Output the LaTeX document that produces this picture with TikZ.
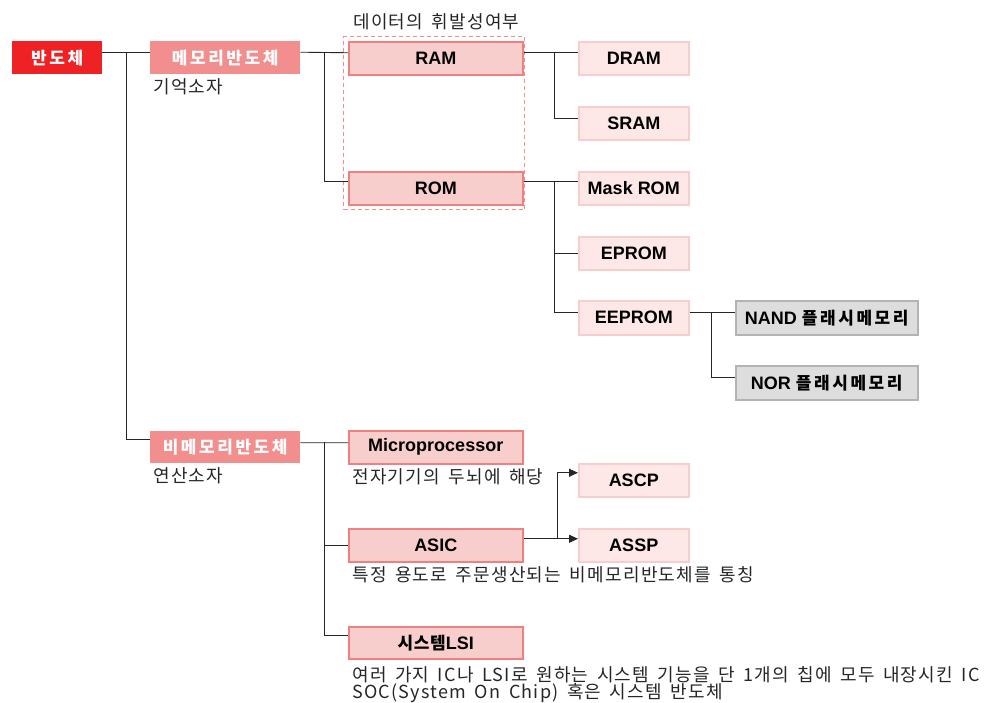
\documentclass[tikz,border=0pt]{standalone}
\usepackage{fontspec}
\usetikzlibrary{arrows.meta,calc}
\newfontfamily\krr{Noto Sans CJK KR}[LetterSpace=7,WordSpace=1.6]
\newfontfamily\krb{Noto Sans CJK KR Bold}[LetterSpace=15]
\newfontfamily\krbn{Noto Sans CJK KR Bold}[LetterSpace=4]
\newfontfamily\lat{Liberation Sans}
\newcommand{\hanb}[1]{{\krb\fontsize{17}{20}\selectfont #1}}
\newcommand{\hanbn}[1]{{\krbn\fontsize{17}{20}\selectfont #1}}
\definecolor{cred}{HTML}{EE2224}
\definecolor{cmid}{HTML}{F28E8E}
\definecolor{cltwo}{HTML}{F8CECC}
\definecolor{cltwob}{HTML}{F08080}
\definecolor{clthree}{HTML}{FDE7E7}
\definecolor{clthreeb}{HTML}{F8CECC}
\definecolor{cgray}{HTML}{DDDDDD}
\definecolor{cgrayb}{HTML}{B3B3B3}
\definecolor{cdash}{HTML}{F28E8E}
\tikzset{
  box/.style={rectangle, inner sep=0pt, anchor=north west, minimum height=33pt, text=black,
    font=\lat\bfseries\fontsize{18}{20}\selectfont},
  topbox/.style={box, fill=cred, text=white},
  midbox/.style={box, fill=cmid, text=white},
  ltwo/.style={box, fill=cltwo, draw=cltwob, line width=1.5pt},
  lthree/.style={box, fill=clthree, draw=clthreeb, line width=1.5pt},
  graybox/.style={box, fill=cgray, draw=cgrayb, line width=1.5pt},
  note/.style={anchor=west, inner sep=0pt, text=black!85, font=\krr\fontsize{18}{20}\selectfont},
  conn/.style={draw=black!85, line width=0.9pt},
  arr/.style={conn, -{Triangle[length=9pt,width=8pt]}},
  dashbox/.style={rectangle, inner sep=0pt, anchor=north west, draw=cdash, line width=1pt, dash pattern=on 4pt off 3pt}
}
\begin{document}
\begin{tikzpicture}[x=1pt,y=-1pt]
\useasboundingbox (0,0) rectangle (993,702);
% group frame
\node[dashbox, minimum width=181pt, minimum height=173pt] (grp) at (343,36) {};
\node[note] (grplabel) at (353,22) {데이터의 휘발성여부};
% level 0/1
\node[topbox, minimum width=90pt] (ban) at (12,41) {\hanb{반도체}};
\node[midbox, minimum width=150pt] (mem) at (150,41) {\hanb{메모리반도체}};
\node[midbox, minimum width=150pt, minimum height=32pt] (nonmem) at (150,431) {\hanb{비메모리반도체}};
\node[note] (memnote) at (153,87) {기억소자};
\node[note] (nonmemnote) at (153,476) {연산소자};
% level 2
\node[ltwo, minimum width=174pt] (ram) at (348,41) {RAM};
\node[ltwo, minimum width=174pt] (rom) at (348,171) {ROM};
\node[ltwo, minimum width=174pt] (micro) at (348,430) {Microprocessor};
\node[ltwo, minimum width=174pt] (asic) at (348,528) {ASIC};
\node[ltwo, minimum width=174pt, minimum height=32pt] (lsi) at (348,626) {\hanbn{시스템}LSI};
\node[note] (micronote) at (352,477) {전자기기의 두뇌에 해당};
\node[note] (asicnote) at (352,575) {특정 용도로 주문생산되는 비메모리반도체를 통칭};
\node[note] (lsinote1) at (352,675) {여러 가지 IC나 LSI로 원하는 시스템 기능을 단 1개의 칩에 모두 내장시킨 IC};
\node[note] (lsinote2) at (352,693) {SOC(System On Chip) 혹은 시스템 반도체};
% level 3
\node[lthree, minimum width=110pt] (dram) at (578,41) {DRAM};
\node[lthree, minimum width=110pt] (sram) at (578,106) {SRAM};
\node[lthree, minimum width=110pt] (mask) at (578,171) {Mask ROM};
\node[lthree, minimum width=110pt] (eprom) at (578,236) {EPROM};
\node[lthree, minimum width=110pt, minimum height=34pt] (eeprom) at (578,300) {EEPROM};
\node[lthree, minimum width=110pt] (ascp) at (578,463) {ASCP};
\node[lthree, minimum width=110pt] (assp) at (578,528) {ASSP};
% level 4
\node[graybox, minimum width=182pt, minimum height=34pt] (nand) at (735,300) {NAND \hanb{플래시메모리}};
\node[graybox, minimum width=182pt, minimum height=34pt] (nor) at (735,365) {NOR \hanb{플래시메모리}};
% junctions
\coordinate (j1) at (126,52);
\coordinate (j2) at (324.5,52);
\coordinate (j3) at (554,52);
\coordinate (j4) at (554,181);
\coordinate (j5) at (711,312);
\coordinate (j6) at (324,442);
\coordinate (j7) at (557,538);
% connectors
\draw[conn] ([yshift=5.5pt]ban.east) -- ([yshift=5.5pt]mem.west);
\draw[conn] (j1) |- ([yshift=8pt]nonmem.west);
\draw[conn] ([yshift=5.5pt]mem.east) -- ([yshift=5.5pt]ram.west);
\draw[conn] (j2) |- ([yshift=6.5pt]rom.west);
\draw[conn] ([yshift=5.5pt]ram.east) -- ([yshift=5.5pt]dram.west);
\draw[conn] (j3) |- ([yshift=4.5pt]sram.west);
\draw[conn] ([yshift=6.5pt]rom.east) -- ([yshift=6.5pt]mask.west);
\draw[conn] (j4) |- (eprom.west);
\draw[conn] (j4) |- ([yshift=5pt]eeprom.west);
\draw[conn] ([yshift=5pt]eeprom.east) -- ([yshift=5pt]nand.west);
\draw[conn] (j5) |- ([yshift=5pt]nor.west);
\draw[conn] ([yshift=4.5pt]nonmem.east) -- ([yshift=4.5pt]micro.west);
\draw[conn] (j6) |- (asic.west);
\draw[conn] (j6) |- ([yshift=7pt]lsi.west);
\draw[arr] ([yshift=6.5pt]asic.east) -- ([yshift=6.5pt]assp.west);
\draw[arr] (j7) |- ([yshift=7.5pt]ascp.west);
\end{tikzpicture}
\end{document}
